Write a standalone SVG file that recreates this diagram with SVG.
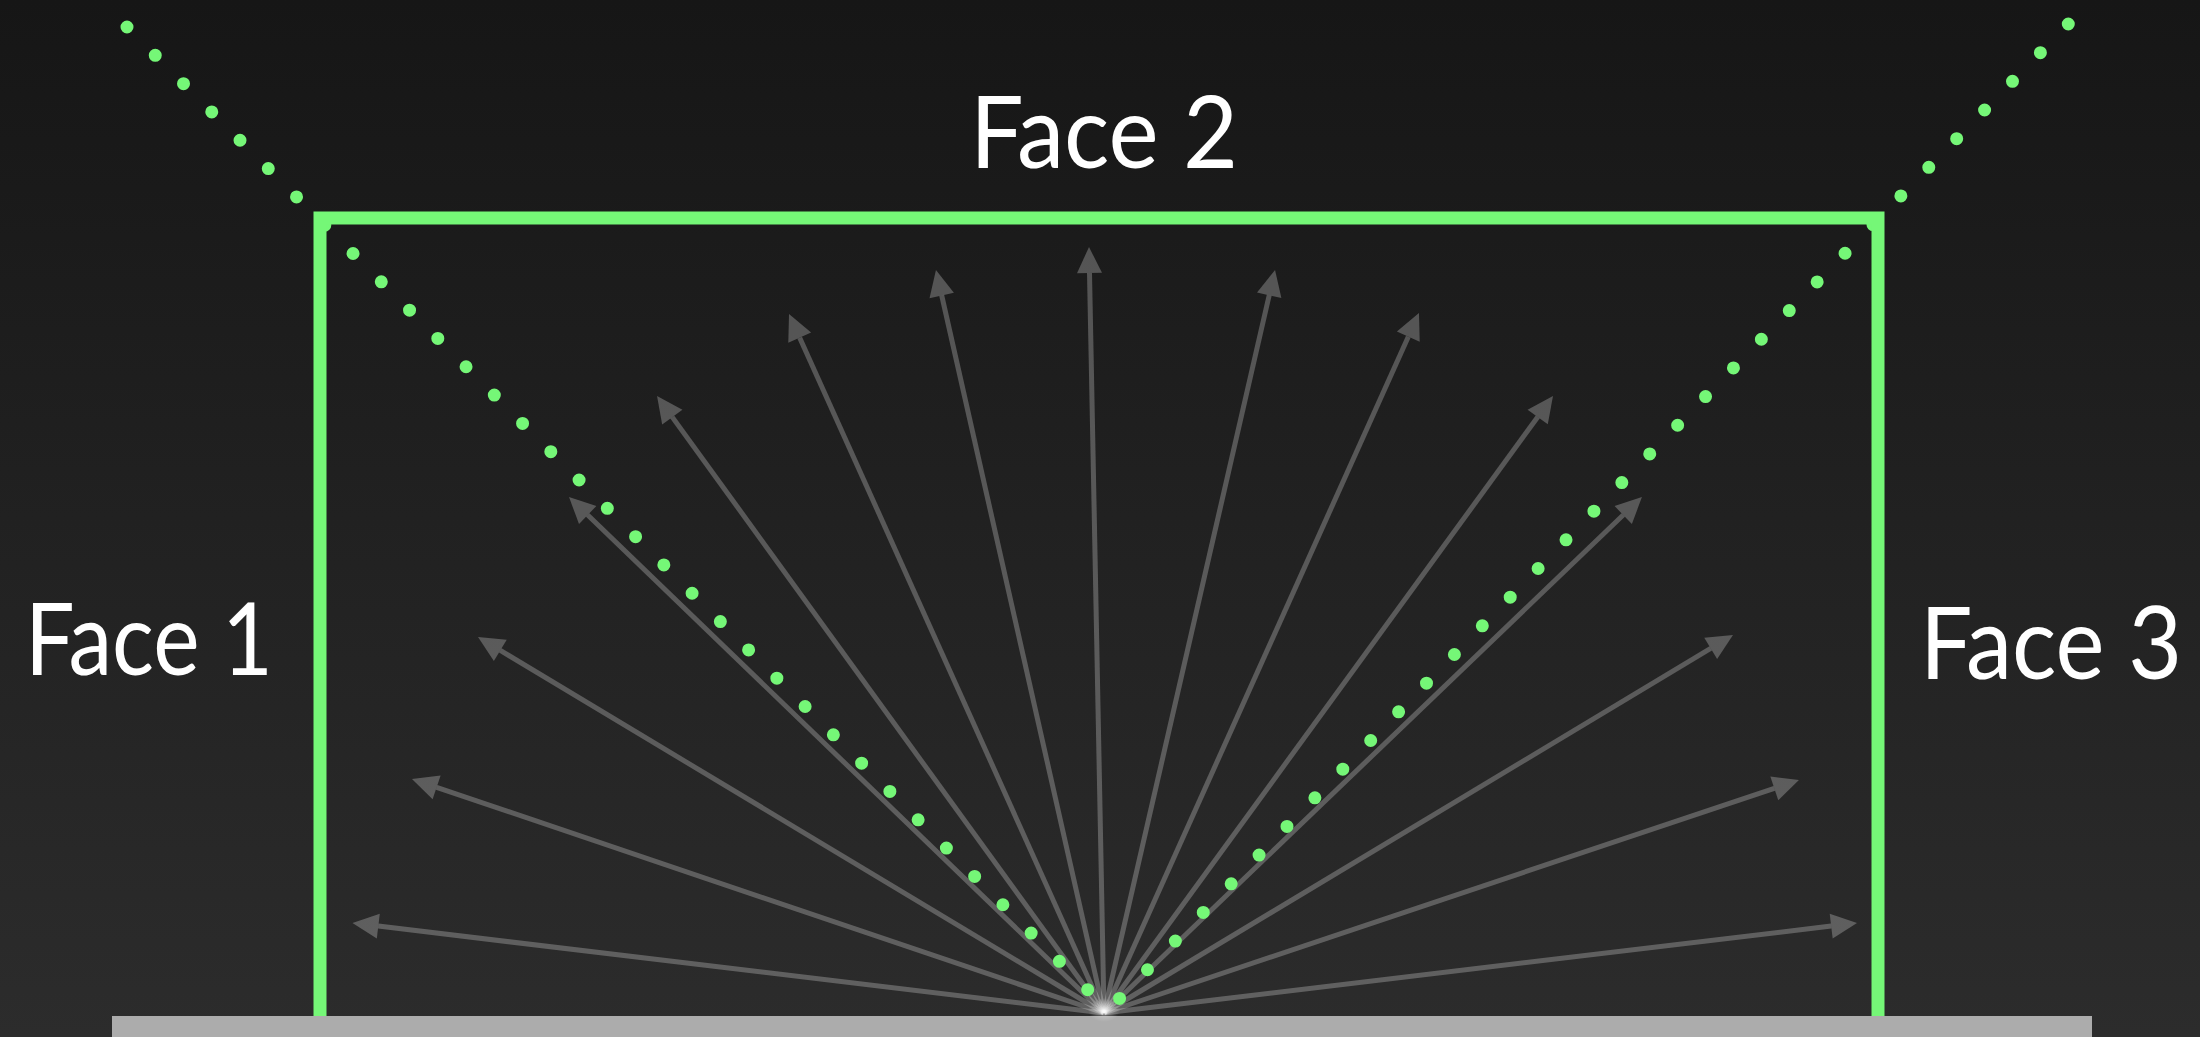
<svg xmlns="http://www.w3.org/2000/svg" width="2200" height="1037" viewBox="0 0 2200 1037">
  <defs>
    <linearGradient id="bg" x1="0" y1="0" x2="0" y2="1">
      <stop offset="0" stop-color="#161616"/>
      <stop offset="1" stop-color="#2c2c2c"/>
    </linearGradient>
    <radialGradient id="glow" cx="0.5" cy="0.5" r="0.5">
      <stop offset="0" stop-color="#ffffff" stop-opacity="0.45"/>
      <stop offset="1" stop-color="#ffffff" stop-opacity="0"/>
    </radialGradient>
    <marker id="ah" markerUnits="userSpaceOnUse" viewBox="0 0 26 25" markerWidth="26" markerHeight="25" refX="0" refY="12.5" orient="auto" overflow="visible">
      <path d="M0,0 L26,12.5 L0,25 Z" fill="#ffffff" fill-opacity="0.25"/>
    </marker>
    <style>
      .ray { stroke: #ffffff; stroke-opacity: 0.25; stroke-width: 5; fill: none; marker-end: url(#ah); }
      .dots { stroke: #75f777; stroke-width: 13; stroke-linecap: round; stroke-dasharray: 0 40; fill: none; }
      .face { fill: none; stroke: #75f777; stroke-width: 13; stroke-linejoin: miter; }
      .label { fill: #ffffff; font-family: "Lato", "Open Sans", "Liberation Sans", sans-serif; font-size: 100px; }
    </style>
  </defs>

  <rect x="0" y="0" width="2200" height="1037" fill="url(#bg)"/>

  <g id="floor">
    <rect x="112" y="1016" width="1980" height="21" fill="#acacac"/>
  </g>

  <g id="connectors">
    <line class="ray" x1="1104" y1="1013" x2="378.3" y2="926.1"/>
    <line class="ray" x1="1104" y1="1013" x2="436.6" y2="787.3"/>
    <line class="ray" x1="1104" y1="1013" x2="500.3" y2="650.4"/>
    <line class="ray" x1="1104" y1="1013" x2="587.7" y2="515.0"/>
    <line class="ray" x1="1104" y1="1013" x2="672.3" y2="417.1"/>
    <line class="ray" x1="1104" y1="1013" x2="799.7" y2="337.7"/>
    <line class="ray" x1="1104" y1="1013" x2="941.7" y2="295.4"/>
    <line class="ray" x1="1104" y1="1013" x2="1089.5" y2="273"/>
    <line class="ray" x1="1104" y1="1013" x2="1269.2" y2="295.3"/>
    <line class="ray" x1="1104" y1="1013" x2="1408.3" y2="336.7"/>
    <line class="ray" x1="1104" y1="1013" x2="1537.7" y2="417"/>
    <line class="ray" x1="1104" y1="1013" x2="1623.2" y2="515"/>
    <line class="ray" x1="1104" y1="1013" x2="1710.7" y2="648.4"/>
    <line class="ray" x1="1104" y1="1013" x2="1774.3" y2="788.3"/>
    <line class="ray" x1="1104" y1="1013" x2="1831.2" y2="926.1"/>
    <ellipse cx="1104" cy="1010" rx="16" ry="12" fill="url(#glow)"/>
  </g>

  <g id="view-bounds">
    <line class="dots" x1="127" y1="27" x2="1088.7" y2="990.7"/>
    <line class="dots" x1="2068.3" y1="24" x2="1118.8" y2="999.2"/>
  </g>

  <g id="faces">
    <path class="face" d="M320,1016 V218 H1878 V1016"/>
  </g>

  <g id="face1">
    <text class="label" x="25" y="675" textLength="248" lengthAdjust="spacingAndGlyphs">Face 1</text>
  </g>
  <g id="face2">
    <text class="label" x="970" y="168" textLength="268" lengthAdjust="spacingAndGlyphs">Face 2</text>
  </g>
  <g id="face3">
    <text class="label" x="1920" y="679" textLength="262" lengthAdjust="spacingAndGlyphs">Face 3</text>
  </g>
</svg>
